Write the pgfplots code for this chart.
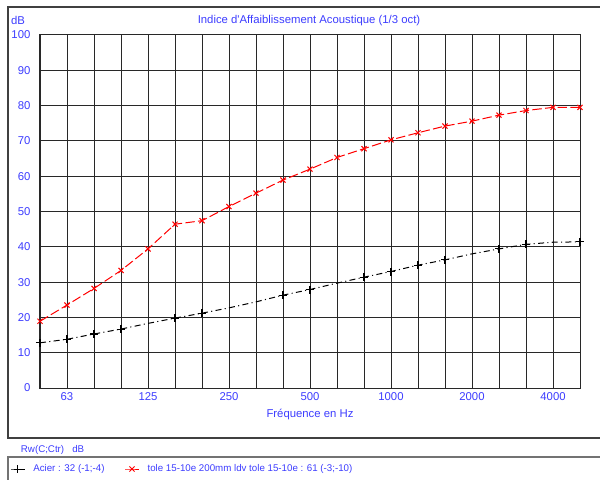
\documentclass[border=0pt]{standalone}
\usepackage{pgfplots}
\pgfplotsset{compat=1.18}
\usepackage{fontspec}
\setmainfont{Liberation Sans}[Ligatures=TeXOff]
\definecolor{tblue}{RGB}{60,60,255}
\definecolor{gridc}{RGB}{40,40,40}
\newcommand{\AX}{\fontsize{8.5}{10}\selectfont}
\newcommand{\LG}{\fontsize{7.3}{9}\selectfont}

\pgfplotstableread{
x y
0 18.9
1 23.5
2 28.2
3 33.3
4 39.4
5 46.4
6 47.4
7 51.4
8 55.2
9 58.9
10 62.0
11 65.3
12 67.8
13 70.3
14 72.3
15 74.2
16 75.6
17 77.3
18 78.6
19 79.5
20 79.5
}\redtab

\pgfplotstableread{
x y
0 12.8
1 13.8
2 15.3
3 16.7
4 18.3
5 19.8
6 21.2
7 22.7
8 24.4
9 26.3
10 27.9
11 29.7
12 31.4
13 33.0
14 34.8
15 36.3
16 38.0
17 39.4
18 40.7
19 41.3
20 41.4
}\blacktab

\begin{document}
\begin{tikzpicture}
\path[use as bounding box] (0pt,0pt) rectangle (450pt,359.25pt);
\begin{axis}[
 at={(30pt,68.25pt)}, anchor=south west, scale only axis,
 width=405pt, height=264.75pt,
 xmin=0, xmax=20, ymin=0, ymax=100,
 xtick={0,...,20},
 xticklabels={,63,,,125,,,250,,,500,,,1000,,,2000,,,4000,},
 ytick={0,10,...,100},
 major tick length=0pt,
 grid=major,
 major grid style={gridc, line width=0.75pt},
 axis line style={gridc, line width=0.75pt},
 ticklabel style={font=\AX, text=tblue},
 /pgf/number format/assume math mode=true,
 xticklabel style={anchor=north, inner sep=0pt, yshift=-3pt},
 yticklabel style={anchor=east, inner sep=0pt, xshift=-7pt},
 clip=false,
 legend style={at={(-0.05556,-0.22946)}, anchor=west, draw=none, fill=none,
   inner sep=0pt, font=\LG, text=tblue, legend columns=2,
   /tikz/every odd column/.append style={column sep=4pt},
   /tikz/every even column/.append style={column sep=13pt}},
 legend image code/.code={\draw[mark repeat=2,mark phase=2,#1] plot coordinates {(0cm,0cm) (0.185cm,0cm) (0.37cm,0cm)};},
]
\addplot[red, line width=0.75pt, dash pattern=on 7pt off 2.5pt, mark=x, mark size=2.7pt, mark options={solid}, forget plot] table[x=x,y=y] {\redtab};
\addplot[black, line width=0.75pt, dash pattern=on 4.5pt off 2.5pt on 0.8pt off 2.5pt, mark=+, mark size=3pt, mark options={solid, line width=0.8pt}, mark indices={1,2,3,4,6,7,10,11,13,14,15,16,18,19,21}, forget plot] table[x=x,y=y] {\blacktab};
\addlegendimage{black, line width=0.75pt, mark=+, mark size=3pt}
\addlegendentry{Acier : 32 (-1;-4)}
\addlegendimage{red, line width=0.75pt, mark=x, mark size=2.7pt}
\addlegendentry{tole 15-10e 200mm ldv tole 15-10e : 61 (-3;-10)}
\end{axis}
\begin{scope}[x=0.75pt,y=0.75pt]
\node[font=\AX, text=tblue] at (309,458.3) {Indice d'Affaiblissement Acoustique (1/3 oct)};
\node[font=\AX, text=tblue] at (18,458.3) {dB};
\node[font=\AX, text=tblue] at (310,64) {Fréquence en Hz};
\node[font=\LG, text=tblue, anchor=west, inner sep=0pt] at (20.7,29) {Rw(C;Ctr)\ \ \ dB};
\draw[black!75, line width=1.2pt] (620,41) -- (8,41) -- (8,472) -- (620,472);
\draw[black!55, line width=1.2pt] (620,22) -- (8,22) -- (8,-20);
\end{scope}
\end{tikzpicture}
\end{document}
